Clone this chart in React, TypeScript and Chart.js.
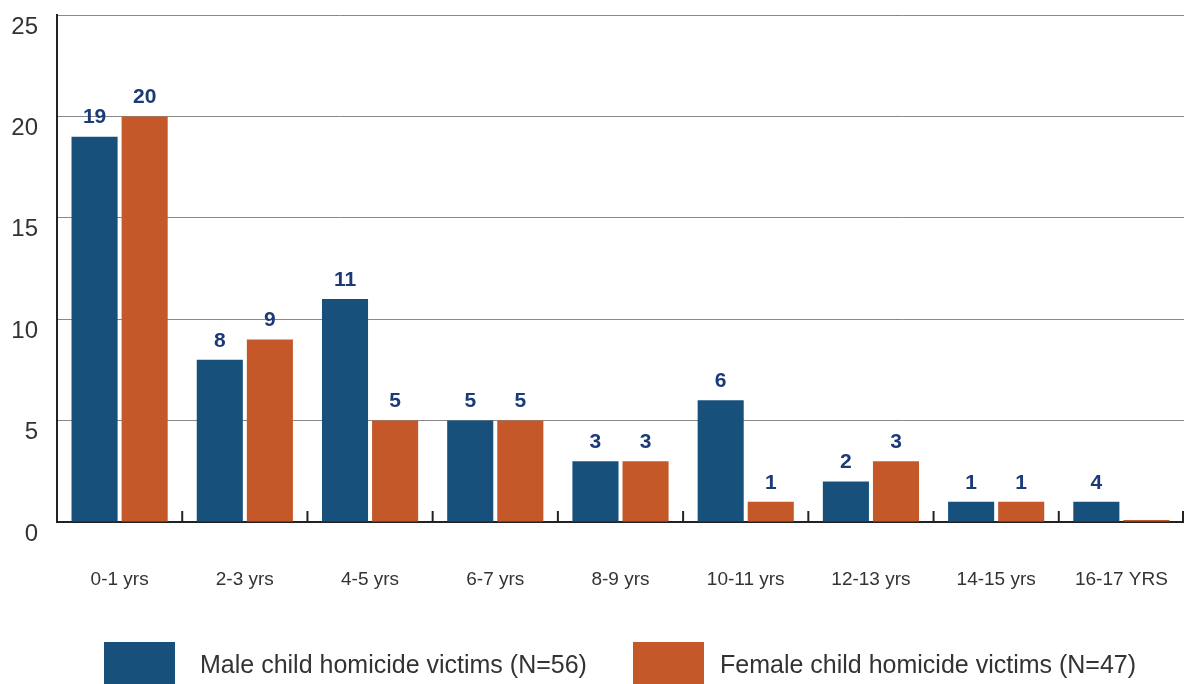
import React, { useEffect, useRef } from "react";
import { Chart, registerables } from "chart.js";

Chart.register(...registerables);

const categories = ["0-1 yrs", "2-3 yrs", "4-5 yrs", "6-7 yrs", "8-9 yrs", "10-11 yrs", "12-13 yrs", "14-15 yrs", "16-17 YRS"];
const maleValues = [19, 8, 11, 5, 3, 6, 2, 1, 1];
const femaleValues = [20, 9, 5, 5, 3, 1, 3, 1, 0];
const maleLabels = ["19", "8", "11", "5", "3", "6", "2", "1", "4"];
const femaleLabels = ["20", "9", "5", "5", "3", "1", "3", "1", ""];
const seriesNames = ["Male child homicide victims (N=56)", "Female child homicide victims (N=47)"];
const yTicks = [0, 5, 10, 15, 20, 25];

const BLUE = "#17507b";
const ORANGE = "#c55829";
const FONT = "'Liberation Sans', Arial, sans-serif";

const valueLabelPlugin = {
  id: "valueLabels",
  afterDatasetsDraw(chart: any) {
    const ctx = chart.ctx;
    const all = [maleLabels, femaleLabels];
    ctx.save();
    ctx.font = `bold 21px ${FONT}`;
    ctx.fillStyle = "#1c3a78";
    ctx.textAlign = "center";
    ctx.textBaseline = "middle";
    chart.data.datasets.forEach((_: any, di: number) => {
      const meta = chart.getDatasetMeta(di);
      meta.data.forEach((bar: any, i: number) => {
        const t = all[di][i];
        if (!t) return;
        ctx.fillText(t, bar.x, bar.y - 19);
      });
    });
    // category separator ticks on the x axis
    const xs = chart.scales.x;
    const step = xs.getPixelForValue(1) - xs.getPixelForValue(0);
    ctx.strokeStyle = "#222";
    ctx.lineWidth = 2;
    const bottom = chart.chartArea.bottom;
    for (let i = 0; i <= categories.length; i++) {
      let x = xs.getPixelForValue(i) - step / 2;
      if (i === categories.length) x -= 1;
      ctx.beginPath();
      ctx.moveTo(x, bottom);
      ctx.lineTo(x, bottom - 11);
      ctx.stroke();
    }
    ctx.restore();
  },
};

const legendPlugin = {
  id: "customLegend",
  afterDraw(chart: any) {
    const ctx = chart.ctx;
    const colors = [BLUE, ORANGE];
    const boxX = [104, 633];
    const textX = [200, 720];
    ctx.save();
    ctx.font = `25px ${FONT}`;
    ctx.textBaseline = "middle";
    ctx.textAlign = "left";
    seriesNames.forEach((name, i) => {
      ctx.fillStyle = colors[i];
      ctx.fillRect(boxX[i], 642, 71, 42);
      ctx.fillStyle = "#333";
      ctx.fillText(name, textX[i], 666);
    });
    ctx.restore();
  },
};

export default function App() {
  const ref = useRef<HTMLCanvasElement | null>(null);
  useEffect(() => {
    document.body.style.margin = "0";
    document.body.style.overflow = "hidden";
    const chart = new Chart(ref.current as HTMLCanvasElement, {
      type: "bar",
      data: {
        labels: categories,
        datasets: [
          { label: seriesNames[0], data: maleValues, backgroundColor: BLUE, barPercentage: 0.92, categoryPercentage: 0.8 },
          { label: seriesNames[1], data: femaleValues, backgroundColor: ORANGE, barPercentage: 0.92, categoryPercentage: 0.8, minBarLength: 2 },
        ],
      },
      options: {
        animation: false,
        responsive: true,
        maintainAspectRatio: false,
        layout: { padding: { top: 15, right: 0, left: 0, bottom: 0 } },
        plugins: { legend: { display: false }, tooltip: { enabled: false } },
        scales: {
          x: {
            grid: { display: false },
            border: { display: true, color: "#222", width: 2 },
            ticks: { color: "#333", font: { family: FONT, size: 19 }, padding: 38, maxRotation: 0 },
            afterFit(s: any) {
              s.height = 162;
              s.paddingLeft = 0;
              s.paddingRight = 0;
            },
          },
          y: {
            min: 0,
            max: 25,
            afterBuildTicks(s: any) {
              s.ticks = yTicks.map((v) => ({ value: v }));
            },
            grid: { color: "#888", lineWidth: 1, drawTicks: false },
            border: { display: true, color: "#222", width: 2 },
            ticks: { color: "#333", font: { family: FONT, size: 24 }, padding: 19, labelOffset: 12 },
            afterFit(s: any) {
              s.width = 57;
              s.paddingTop = 0;
              s.paddingBottom = 0;
            },
          },
        },
      },
      plugins: [valueLabelPlugin, legendPlugin],
    });
    return () => chart.destroy();
  }, []);
  return (
    <div style={{ position: "absolute", left: 0, top: 0, width: 1184, height: 684 }}>
      <canvas ref={ref} style={{ display: "block" }} />
    </div>
  );
}
